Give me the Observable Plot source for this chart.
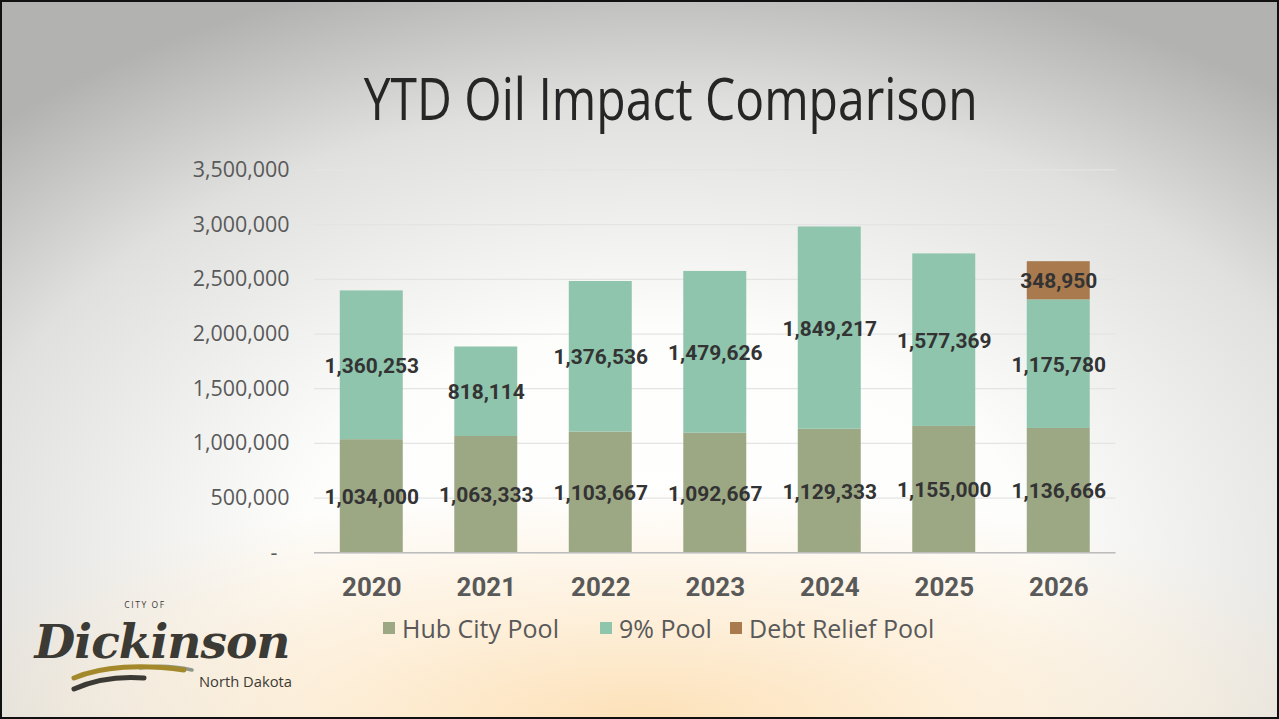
<!DOCTYPE html>
<html>
<head>
<meta charset="utf-8">
<script src="https://cdn.jsdelivr.net/npm/d3@7"></script>
<script src="https://cdn.jsdelivr.net/npm/@observablehq/plot@0.6"></script>
<style>
  html, body { margin: 0; padding: 0; }
  body { width: 1279px; height: 719px; overflow: hidden; }
  #slide {
    position: relative; width: 1279px; height: 719px; box-sizing: border-box;
    border: 2px solid #111;
    background:
      radial-gradient(ellipse 60% 32% at 50% 100%, rgba(253,224,182,0.95) 0%, rgba(253,234,205,0.7) 45%, rgba(255,250,240,0) 100%),
      radial-gradient(ellipse 75% 85% at 52% 78%, #ffffff 0%, #fdfdfc 38%, #e0e0de 75%, #b2b2b0 100%);
  }
  #title {
    position: absolute; left: 29px; width: 1279px; top: 64px; text-align: center;
    font-family: "Open Sans", sans-serif; font-size: 58px; color: #262626; line-height: 64px;
    white-space: nowrap;
  }
  #title span { display: inline-block; transform-origin: center; }
  #chart { position: absolute; left: 0; top: 0; }
  #legend {
    position: absolute; left: 0; top: 0; width: 1279px; height: 719px;
    font-family: "Open Sans", sans-serif; font-size: 25px; color: #595959; white-space: nowrap;
  }
  #legend .sw { position: absolute; width: 12px; height: 12px; top: 620px; }
  #legend .lab { position: absolute; top: 609px; line-height: 34px; }
  #logo { position: absolute; left: 30px; top: 596px; overflow: visible; }
  g[aria-label="x-axis tick label"] text { font-weight: bold; }
</style>
</head>
<body>
<div id="slide">
  <div id="title"><span id="titletext">YTD Oil Impact Comparison</span></div>
  <div id="chart"></div>
  <div id="legend"></div>
  <svg id="logo" width="290" height="100" viewBox="0 0 290 100">
    <text x="113" y="10" font-family="Open Sans, sans-serif" font-size="8.5" letter-spacing="1.6" fill="#3a3a36" text-anchor="middle">CITY OF</text>
    <text x="130" y="60" font-family="DejaVu Serif, serif" font-style="italic" font-weight="bold" font-size="47" letter-spacing="-1" fill="#3b3a35" text-anchor="middle">Dickinson</text>
    <path d="M108,70 C125,67 142,68 160,72" stroke="#8e978a" stroke-width="3.5" fill="none" stroke-linecap="round"/>
    <path d="M42,80 C70,68 110,66 152,72" stroke="#a4892c" stroke-width="5" fill="none" stroke-linecap="round"/>
    <path d="M42,91 C62,82 85,78 112,80" stroke="#3b3a35" stroke-width="5" fill="none" stroke-linecap="round"/>
    <text x="167" y="89" font-family="Open Sans, sans-serif" font-size="14.5" fill="#3b3a35" textLength="93" lengthAdjust="spacingAndGlyphs">North Dakota</text>
  </svg>
</div>
<script>
// ---- data ----
const years = ["2020", "2021", "2022", "2023", "2024", "2025", "2026"];
const series = ["Hub City Pool", "9% Pool", "Debt Relief Pool"];
const hubCityPool = [1034000, 1063333, 1103667, 1092667, 1129333, 1155000, 1136666];
const ninePctPool = [1360253, 818114, 1376536, 1479626, 1849217, 1577369, 1175780];
const debtReliefPool = [0, 0, 0, 0, 0, 0, 348950];
const yTicks = [0, 500000, 1000000, 1500000, 2000000, 2500000, 3000000, 3500000];
const colors = ["#9ca784", "#8fc4ad", "#a87a4e"];

// ---- tidy table ----
const valuesBySeries = [hubCityPool, ninePctPool, debtReliefPool];
const rows = [];
years.forEach((yr, i) => {
  series.forEach((s, j) => {
    const v = valuesBySeries[j][i];
    if (v > 0) rows.push({year: yr, series: s, value: v});
  });
});

const fmt = d3.format(",");

const chart = Plot.plot({
  width: 1279,
  height: 719,
  marginLeft: 313,
  marginRight: 162,
  marginTop: 168,
  marginBottom: 167,
  style: {background: "transparent", fontFamily: "Open Sans, sans-serif", overflow: "visible"},
  x: {type: "band", domain: years, paddingInner: 0.45, paddingOuter: 0.225, round: false, label: null},
  y: {domain: [0, 3500000], label: null},
  color: {domain: series, range: colors},
  marks: [
    Plot.gridY(yTicks, {stroke: "#e4e4e4", strokeOpacity: 1, strokeWidth: 1.2}),
    Plot.barY(rows, {x: "year", y: "value", fill: "series"}),
    Plot.ruleY([0], {stroke: "#bcbcbc", strokeWidth: 1.5}),
    Plot.text(rows, Plot.stackY({
      x: "year", y: "value", z: "series",
      text: d => fmt(d.value),
      fontFamily: "Roboto, sans-serif", fontWeight: "bold", fontSize: 21, fill: "#333333", dy: 1
    })),
    Plot.axisY(yTicks, {
      tickSize: 0, tickPadding: 25, fontSize: 21.5, fill: "#595959",
      fontFamily: "Open Sans, sans-serif",
      tickFormat: d => d === 0 ? "-\u2007" : fmt(d)
    }),
    Plot.axisX({
      tickSize: 0, tickPadding: 25, fontSize: 26, fontWeight: "bold", fill: "#595959",
      fontFamily: "Roboto, sans-serif"
    })
  ]
});
document.getElementById("chart").appendChild(chart);

// legend
const legend = document.getElementById("legend");
const swatchX = [381, 598, 728];
series.forEach((s, j) => {
  const sw = document.createElement("div");
  sw.className = "sw";
  sw.style.left = swatchX[j] + "px";
  sw.style.background = colors[j];
  const lab = document.createElement("div");
  lab.className = "lab";
  lab.style.left = (swatchX[j] + 19) + "px";
  lab.textContent = s;
  legend.appendChild(sw);
  legend.appendChild(lab);
});

// fit title width to the reference (~614px)
const t = document.getElementById("titletext");
const w = t.getBoundingClientRect().width;
t.style.transform = `scaleX(${614 / w})`;
</script>
</body>
</html>
